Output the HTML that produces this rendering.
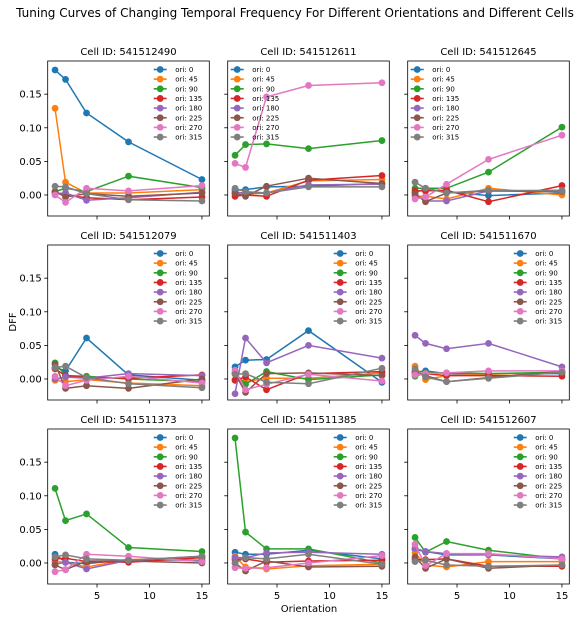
<!DOCTYPE html>
<html><head><meta charset="utf-8"><style>
body{margin:0;background:#fff;}
svg{display:block;font-family:"DejaVu Sans","Liberation Sans",sans-serif;}
</style></head><body>
<svg id="chart" width="585" height="621" viewBox="0 0 585 621" xmlns="http://www.w3.org/2000/svg">
<text x="295" y="17" font-size="12" text-anchor="middle">Tuning Curves of Changing Temporal Frequency For Different Orientations and Different Cells</text>
<text x="16" y="322" font-size="10" text-anchor="middle" transform="rotate(-90 16 322)">DFF</text>
<text x="309" y="612" font-size="10" text-anchor="middle">Orientation</text>
</svg>
<script>
const freqs = [1, 2, 4, 8, 15];
const oriLabels = ["ori: 0","ori: 45","ori: 90","ori: 135","ori: 180","ori: 225","ori: 270","ori: 315"];
const cellIds = ["541512490","541512611","541512645","541512079","541511403","541511670","541511373","541511385","541512607"];
const legendLeft = [false,true,true,false,false,false,false,false,false];
const yTicks = [0, 0.05, 0.10, 0.15];
const yTickLabels = ["0.00","0.05","0.10","0.15"];
const xTicks = [5, 10, 15];
const xTickLabels = ["5","10","15"];
const cell0 = [[0.186,0.172,0.122,0.079,0.023],[0.129,0.019,0.003,0.003,0.008],[0.005,0.010,0.005,0.028,0.011],[0.004,0.0,-0.004,-0.007,-0.003],[0.002,0.003,-0.008,-0.004,0.004],[0.005,-0.003,0.002,-0.002,0.003],[0.0,-0.011,0.010,0.006,0.014],[0.013,0.012,0.002,-0.007,-0.009]];
const cell1 = [[0.007,0.008,0.012,0.013,0.017],[0.001,0.001,0.003,0.021,0.023],[0.059,0.075,0.076,0.069,0.081],[-0.002,0.0,-0.002,0.022,0.029],[0.004,0.003,0.003,0.015,0.016],[0.003,-0.002,0.013,0.025,0.017],[0.047,0.041,0.146,0.163,0.167],[0.010,0.005,0.003,0.012,0.012]];
const cell2 = [[0.004,0.009,0.005,-0.001,0.003],[-0.002,-0.002,-0.006,0.010,0.0],[0.010,0.010,0.010,0.034,0.101],[0.006,0.006,0.007,-0.010,0.014],[0.0,-0.009,-0.009,0.006,0.007],[0.002,-0.010,0.003,0.006,0.005],[-0.006,-0.003,0.016,0.053,0.089],[0.019,0.010,0.003,0.007,0.006]];
const cell3 = [[0.017,0.012,0.061,0.006,-0.002],[-0.002,-0.004,-0.001,-0.006,-0.010],[0.024,0.005,0.004,0.000,-0.004],[0.015,0.005,0.002,0.001,0.006],[0.000,0.003,0.001,0.008,0.005],[0.022,-0.014,-0.010,-0.014,0.000],[0.004,-0.010,-0.002,0.004,-0.006],[0.017,0.019,0.002,-0.007,-0.013]];
const cell4 = [[0.018,0.028,0.029,0.072,-0.005],[-0.001,-0.004,0.001,0.001,0.009],[0.009,-0.008,0.011,-0.001,0.006],[-0.002,0.003,-0.016,0.008,0.011],[-0.022,0.061,0.024,0.050,0.031],[0.008,-0.020,0.008,0.009,0.005],[0.013,-0.016,-0.008,0.007,-0.003],[0.007,0.008,-0.005,-0.007,0.016]];
const cell5 = [[0.010,0.012,0.008,0.008,0.008],[0.019,-0.001,0.005,0.007,0.010],[0.004,0.009,0.009,0.008,0.010],[0.008,0.008,0.005,0.005,0.004],[0.065,0.053,0.045,0.053,0.018],[0.012,0.005,-0.004,0.002,0.011],[0.006,0.008,0.009,0.012,0.012],[0.015,0.003,-0.004,0.001,0.010]];
const cell6 = [[0.013,0.001,-0.001,0.005,0.004],[0.002,0.001,-0.006,0.005,0.008],[0.111,0.063,0.073,0.023,0.017],[0.006,0.007,0.002,0.001,0.008],[-0.002,0.001,-0.009,0.004,0.010],[-0.003,-0.010,0.003,0.003,0.000],[-0.013,-0.010,0.013,0.010,0.002],[0.009,0.012,0.006,0.004,0.010]];
const cell7 = [[0.016,0.013,0.013,0.019,0.006],[0.010,-0.006,-0.009,-0.004,-0.002],[0.186,0.046,0.021,0.021,0.000],[0.005,0.006,0.001,0.003,0.004],[0.008,0.008,0.015,0.016,0.013],[0.000,-0.012,0.003,-0.006,-0.005],[-0.007,-0.008,-0.007,0.000,0.011],[0.000,0.008,0.006,0.013,-0.002]];
const cell8 = [[0.020,0.017,0.012,0.012,0.006],[0.015,-0.003,-0.006,0.002,0.002],[0.038,0.016,0.032,0.019,0.006],[0.005,0.005,0.006,-0.005,-0.005],[0.022,0.017,0.014,0.012,0.009],[0.009,-0.008,0.006,-0.008,-0.003],[0.028,-0.004,0.014,0.014,0.006],[0.002,0.004,-0.003,-0.005,-0.003]];
const cells = [cell0,cell1,cell2,cell3,cell4,cell5,cell6,cell7,cell8];
const colors = ["#1f77b4","#ff7f0e","#2ca02c","#d62728","#9467bd","#8c564b","#e377c2","#7f7f7f"];

const NS = "http://www.w3.org/2000/svg";
const svg = document.getElementById('chart');
function mk(tag, attrs, parent){const e=document.createElementNS(NS,tag);for(const k in attrs)e.setAttribute(k,attrs[k]);(parent||svg).appendChild(e);return e;}
const W=161.6, H=155, XMIN=0.3, XMAX=15.7, YMIN=-0.0313, YMAX=0.1994;
const lefts=[47.7,227.7,407.7], tops=[61,245,429];

cells.forEach((data,i)=>{
  const col=i%3,row=Math.floor(i/3);
  const L=lefts[col],T=tops[row];
  const xs=v=>L+(v-XMIN)/(XMAX-XMIN)*W;
  const ys=v=>T+H-(v-YMIN)/(YMAX-YMIN)*H;
  const g=mk('g',{});
  
  
  const t=mk('text',{x:L+W/2,y:T-6,'font-size':10,'text-anchor':'middle'},g);
  t.textContent='Cell ID: '+cellIds[i];
  
  
  yTicks.forEach((v,k)=>{
    const y=ys(v);
    const tk=mk('line',{x1:L-3.5,x2:L,y1:y,y2:y,stroke:'#000','stroke-width':0.8},g);
    
    
    if(col===0){
      const lb=mk('text',{x:L-6,y:y+3.5,'font-size':10,'text-anchor':'end'},g);
      lb.textContent=yTickLabels[k];
      
      
    }
  });
  xTicks.forEach((v,k)=>{
    const x=xs(v);
    const tk=mk('line',{x1:x,x2:x,y1:T+H,y2:T+H+3.5,stroke:'#000','stroke-width':0.8},g);
    
    
    if(row===2){
      const lb=mk('text',{x:x,y:T+H+15,'font-size':10,'text-anchor':'middle'},g);
      lb.textContent=xTickLabels[k];
      
      
    }
  });
  data.forEach((series,s)=>{
    const pts=series.map((v,j)=>xs(freqs[j]).toFixed(1)+','+ys(v).toFixed(1)).join(' ');
    const pl=mk('polyline',{points:pts,fill:'none',stroke:colors[s],'stroke-width':1.5},g);
    
    
    series.forEach((v,j)=>{
      const c=mk('circle',{cx:xs(freqs[j]),cy:ys(v),r:3.4,fill:colors[s]},g);
      
      
    });
  });
  const fr=mk('rect',{x:L,y:T,width:W,height:H,fill:'none',stroke:'#000','stroke-width':0.8},g);
  
  
  const lg=mk('g',{},g);
  
  
  const lx=legendLeft[i]?L+3:L+106;
  oriLabels.forEach((lab,s)=>{
    const y=T+8.5+s*9.65;
    const ln=mk('line',{x1:lx,x2:lx+13,y1:y,y2:y,stroke:colors[s],'stroke-width':1.6},lg);
    
    
    const c=mk('circle',{cx:lx+6.5,cy:y,r:3.4,fill:colors[s]},lg);
    
    
    const tx=mk('text',{x:lx+21.5,y:y+2.5,'font-size':7},lg);
    tx.textContent=lab;
    
    
  });
});
</script>
</body></html>
